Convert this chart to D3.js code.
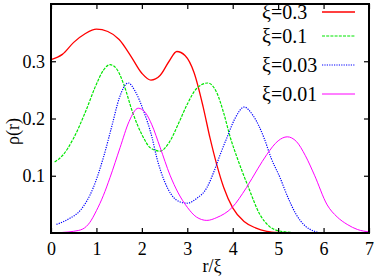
<!DOCTYPE html>
<html>
<head>
<meta charset="utf-8">
<script src="https://cdn.jsdelivr.net/npm/d3@7"></script>
<style>
  html, body { margin: 0; padding: 0; background: #fff; }
  svg text { font-family: 'Liberation Serif', 'Times New Roman', Times, serif; fill: #000; }
</style>
</head>
<body>
<div id="chart"></div>
<script>
// density profiles rho(r) for several xi values
const xTicks = [0, 1, 2, 3, 4, 5, 6, 7];
const yTicks = [0.1, 0.2, 0.3];
const seriesLabels = ['ξ=0.3', 'ξ=0.1', 'ξ=0.03', 'ξ=0.01'];

const xi03 = [[0,0.303],[0.25,0.312],[0.5,0.333],[0.75,0.348],[1,0.356],[1.25,0.352],[1.5,0.338],[1.75,0.31],[2,0.279],[2.2,0.267],[2.4,0.275],[2.6,0.3],[2.77,0.317],[2.95,0.31],[3.15,0.28],[3.35,0.22],[3.5,0.166],[3.65,0.119],[3.8,0.08],[4,0.044],[4.25,0.02],[4.5,0.009],[4.75,0.003],[5,0.001]];
const xi01 = [[0.08,0.124],[0.25,0.135],[0.5,0.166],[0.75,0.21],[1,0.26],[1.15,0.284],[1.3,0.294],[1.45,0.286],[1.6,0.26],[1.8,0.21],[2,0.172],[2.2,0.148],[2.4,0.143],[2.6,0.158],[2.8,0.19],[3,0.225],[3.2,0.252],[3.45,0.262],[3.65,0.245],[3.8,0.21],[3.95,0.166],[4.1,0.131],[4.35,0.079],[4.6,0.032],[4.8,0.012],[5,0.004],[5.3,0.001]];
const xi003 = [[0.12,0.015],[0.4,0.025],[0.65,0.04],[0.93,0.079],[1.15,0.131],[1.35,0.19],[1.5,0.235],[1.7,0.262],[1.85,0.248],[2.03,0.215],[2.22,0.168],[2.33,0.131],[2.5,0.09],[2.65,0.067],[2.85,0.054],[3,0.052],[3.2,0.06],[3.43,0.079],[3.6,0.11],[3.72,0.136],[3.87,0.166],[4.05,0.2],[4.25,0.22],[4.45,0.205],[4.69,0.166],[4.85,0.13],[5.04,0.097],[5.2,0.065],[5.4,0.032],[5.6,0.012],[5.8,0.003],[5.95,0]];
const xi001 = [[0.25,0.001],[0.5,0.003],[0.7,0.007],[0.85,0.018],[1,0.039],[1.15,0.065],[1.3,0.097],[1.52,0.149],[1.72,0.195],[1.92,0.218],[2.08,0.21],[2.22,0.189],[2.4,0.15],[2.62,0.101],[2.8,0.07],[3,0.045],[3.2,0.028],[3.43,0.022],[3.65,0.027],[3.98,0.044],[4.3,0.079],[4.55,0.112],[4.75,0.137],[5,0.161],[5.2,0.168],[5.4,0.16],[5.6,0.135],[5.8,0.101],[6.08,0.049],[6.3,0.028],[6.52,0.015],[6.75,0.006],[7,0.002]];

const seriesData = [xi03, xi01, xi003, xi001];
const colors = ['#ff0000', '#00e600', '#0000ff', '#ff00ff'];
const dashes = [null, '3,1.2', '1.2,1.2', null];
const widths = [1.3, 1.2, 1.2, 1];

const width = 374, height = 276;
const margin = { left: 51, right: 5, top: 4, bottom: 43 };

const svg = d3.select('#chart').append('svg')
  .attr('width', width)
  .attr('height', height);

const x = d3.scaleLinear().domain([0, 7]).range([margin.left, width - margin.right]);
const y = d3.scaleLinear().domain([0, 0.4]).range([height - margin.bottom, margin.top]);

// curves
const line = d3.line()
  .x(d => x(d[0]))
  .y(d => y(d[1]))
  .curve(d3.curveMonotoneX);

svg.append('g')
  .selectAll('path')
  .data(seriesData)
  .enter().append('path')
  .attr('d', d => line(d))
  .attr('fill', 'none')
  .attr('stroke', (d, i) => colors[i])
  .attr('stroke-width', (d, i) => widths[i])
  .attr('stroke-dasharray', (d, i) => dashes[i]);

// axes with inward ticks on all four sides
const tickLen = 5;
const serif = "'Liberation Serif', 'Times New Roman', Times, serif";
svg.append('g')
  .attr('transform', `translate(0,${y(0)})`)
  .call(d3.axisBottom(x).tickValues(xTicks).tickSizeInner(-tickLen).tickSizeOuter(0).tickPadding(9).tickFormat(d3.format('d')))
  .call(g => g.select('.domain').remove());
svg.append('g')
  .attr('transform', `translate(0,${y(0.4)})`)
  .call(d3.axisTop(x).tickValues(xTicks).tickSizeInner(-tickLen).tickSizeOuter(0).tickFormat(''))
  .call(g => g.select('.domain').remove());
svg.append('g')
  .attr('transform', `translate(${x(0)},0)`)
  .call(d3.axisLeft(y).tickValues(yTicks).tickSizeInner(-tickLen).tickSizeOuter(0).tickPadding(6).tickFormat(d3.format('.1f')))
  .call(g => g.select('.domain').remove());
svg.append('g')
  .attr('transform', `translate(${x(7)},0)`)
  .call(d3.axisRight(y).tickValues(yTicks).tickSizeInner(-tickLen).tickSizeOuter(0).tickFormat(''))
  .call(g => g.select('.domain').remove());

svg.selectAll('g').attr('font-family', serif);
svg.selectAll('.tick text')
  .attr('font-size', 18)
  .attr('fill', '#000');
svg.selectAll('.tick line').attr('stroke', '#000').attr('stroke-width', 1.2);

// frame
svg.append('rect')
  .attr('x', x(0))
  .attr('y', y(0.4))
  .attr('width', x(7) - x(0))
  .attr('height', y(0) - y(0.4))
  .attr('fill', 'none')
  .attr('stroke', '#000')
  .attr('stroke-width', 2);

// axis titles
svg.append('text')
  .attr('transform', `translate(19,${(y(0) + y(0.4)) / 2 + 13}) rotate(-90)`)
  .attr('text-anchor', 'middle')
  .attr('font-size', 18)
  .text('ρ(r)');
svg.append('text')
  .attr('x', (x(0) + x(7)) / 2 + 2)
  .attr('y', 272)
  .attr('text-anchor', 'middle')
  .attr('font-size', 18)
  .text('r/ξ');

// legend
const legendRows = [12, 36, 65, 94];
const legend = svg.append('g');
seriesLabels.forEach((label, i) => {
  legend.append('text')
    .attr('x', 262)
    .attr('y', legendRows[i] + 7)
    .attr('font-size', 20)
    .text(label);
  legend.append('line')
    .attr('x1', 322).attr('x2', 355)
    .attr('y1', legendRows[i]).attr('y2', legendRows[i])
    .attr('stroke', colors[i])
    .attr('stroke-width', widths[i])
    .attr('stroke-dasharray', dashes[i]);
});
</script>
</body>
</html>
